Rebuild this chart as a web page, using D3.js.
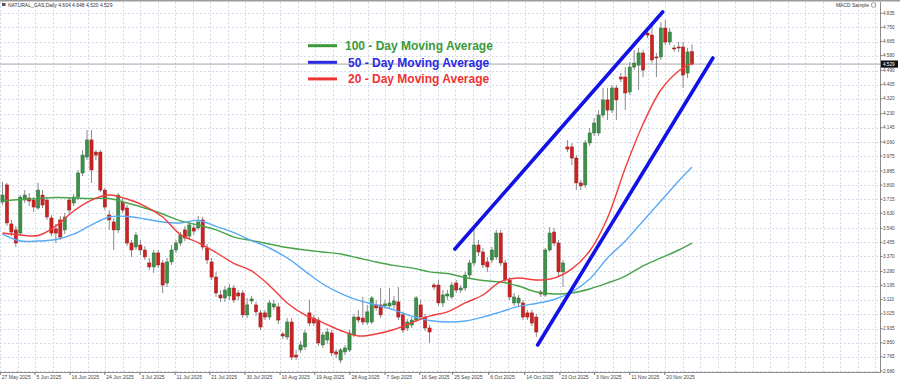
<!DOCTYPE html>
<html><head><meta charset="utf-8">
<script src="https://cdn.jsdelivr.net/npm/d3@7/dist/d3.min.js"></script>
<style>html,body{margin:0;padding:0;background:#fff;} svg{display:block;font-family:"Liberation Sans",Arial,sans-serif;}</style>
</head><body><svg id="c" width="900" height="380"></svg>
<script>
// ---- DATA ----
const symbolTitle = "NATURAL_GAS,Daily  4.604 4.648 4.520 4.529";
const indicatorTitle = "MACD Sample";
const lastPrice = 4.529;

const candleOpen = [3.698,3.801,3.566,3.530,3.511,3.710,3.722,3.710,3.662,3.740,
3.710,3.602,3.536,3.590,3.530,3.710,3.692,3.728,3.873,3.969,
4.072,3.999,3.999,3.770,3.620,3.578,3.530,3.698,3.662,3.451,
3.427,3.439,3.409,3.331,3.307,3.391,3.331,3.210,3.337,3.409,
3.451,3.530,3.493,3.542,3.542,3.590,3.421,3.337,3.246,3.138,
3.120,3.132,3.180,3.150,3.150,3.018,3.102,3.078,3.030,3.030,
3.005,3.066,3.066,2.903,2.885,2.975,2.776,2.807,2.825,3.030,
2.999,2.987,2.837,2.867,2.909,2.795,2.746,2.795,2.807,2.897,
3.005,2.999,2.975,2.975,3.078,3.078,3.072,3.072,3.078,3.096,
3.018,2.939,2.957,2.987,3.078,3.005,2.939,3.198,3.198,3.090,
3.132,3.126,3.210,3.168,3.180,3.258,3.331,3.439,3.397,3.337,
3.349,3.367,3.511,3.331,3.228,3.090,3.090,3.090,3.030,3.030,
3.005,3.156,3.138,3.409,3.517,3.451,3.277,4.030,4.030,3.963,
3.813,3.801,4.054,4.114,4.114,4.222,4.313,4.252,4.385,4.451,
4.451,4.361,4.511,4.523,4.596,4.716,4.704,4.572,4.572,4.746,
4.662,4.626,4.632,4.632,4.475,4.604];
const candleHigh = [3.819,3.813,3.590,3.554,3.740,3.770,3.752,3.728,3.813,3.770,
3.728,3.620,3.566,3.614,3.632,3.728,3.746,3.891,4.011,4.132,
4.132,4.011,4.011,3.783,3.650,3.602,3.752,3.722,3.680,3.469,
3.517,3.469,3.433,3.361,3.409,3.409,3.349,3.361,3.439,3.469,
3.517,3.554,3.578,3.566,3.614,3.608,3.445,3.361,3.277,3.168,
3.192,3.204,3.198,3.168,3.168,3.120,3.132,3.096,3.048,3.048,
3.108,3.108,3.090,2.915,2.999,2.999,2.807,2.861,2.927,3.108,
3.018,3.005,2.915,2.939,2.927,2.813,2.819,2.837,2.927,3.024,
3.048,3.126,3.078,3.132,3.108,3.180,3.108,3.180,3.132,3.186,
3.036,2.993,3.005,3.132,3.108,3.024,2.957,3.210,3.228,3.168,
3.168,3.216,3.228,3.198,3.277,3.349,3.548,3.469,3.421,3.367,
3.427,3.530,3.530,3.349,3.246,3.150,3.138,3.108,3.048,3.048,
3.024,3.168,3.421,3.548,3.542,3.469,3.349,4.072,4.054,3.981,
3.831,4.072,4.144,4.204,4.252,4.385,4.385,4.403,4.403,4.475,
4.511,4.542,4.614,4.626,4.614,4.734,4.782,4.596,4.782,4.795,
4.746,4.644,4.662,4.662,4.626,4.648];
const candleLow = [3.680,3.554,3.493,3.427,3.499,3.692,3.674,3.638,3.650,3.662,
3.590,3.493,3.451,3.469,3.505,3.632,3.674,3.710,3.855,3.951,
3.813,3.951,3.758,3.650,3.530,3.409,3.511,3.632,3.433,3.367,
3.409,3.379,3.349,3.289,3.271,3.301,3.150,3.186,3.319,3.391,
3.433,3.463,3.469,3.499,3.530,3.409,3.325,3.228,3.126,3.096,
3.096,3.108,3.090,3.108,2.999,2.999,3.084,3.011,2.927,2.987,
2.987,3.048,2.963,2.873,2.867,2.746,2.746,2.789,2.807,2.951,
2.951,2.831,2.819,2.843,2.770,2.758,2.728,2.776,2.795,2.885,
2.969,2.957,2.957,2.963,3.042,2.999,3.054,3.060,3.054,2.987,
2.909,2.921,2.939,2.975,2.987,2.921,2.849,3.168,3.072,3.066,
3.108,3.114,3.150,3.150,3.162,3.240,3.313,3.373,3.301,3.277,
3.331,3.349,3.313,3.210,3.108,3.072,3.072,2.987,2.987,2.951,
2.885,3.126,3.126,3.397,3.433,3.252,3.186,3.999,3.921,3.770,
3.770,3.783,4.036,4.096,4.096,4.204,4.192,4.234,4.192,4.421,
4.252,4.343,4.493,4.373,4.451,4.686,4.535,4.451,4.554,4.644,
4.644,4.602,4.602,4.385,4.445,4.520];
const candleClose = [3.740,3.572,3.517,3.451,3.728,3.740,3.704,3.668,3.770,3.680,
3.608,3.511,3.511,3.487,3.608,3.650,3.728,3.873,3.981,4.072,
3.891,3.981,3.770,3.668,3.590,3.530,3.740,3.650,3.451,3.409,
3.499,3.409,3.367,3.307,3.391,3.319,3.198,3.337,3.409,3.451,
3.499,3.481,3.560,3.523,3.578,3.427,3.349,3.246,3.150,3.120,
3.168,3.180,3.108,3.132,3.018,3.078,3.114,3.036,2.945,3.005,
3.090,3.084,2.987,2.891,2.975,2.764,2.764,2.837,2.909,2.969,
2.969,2.849,2.897,2.915,2.789,2.782,2.807,2.819,2.909,3.005,
2.987,2.975,3.036,3.120,3.060,3.018,3.084,3.090,3.102,3.005,
2.927,2.975,2.987,3.120,3.005,2.939,2.915,3.186,3.090,3.138,
3.144,3.198,3.168,3.180,3.258,3.331,3.439,3.397,3.319,3.307,
3.409,3.511,3.331,3.228,3.126,3.126,3.120,3.005,3.005,2.969,
2.915,3.144,3.409,3.511,3.451,3.277,3.331,4.017,3.963,3.813,
3.795,4.054,4.114,4.174,4.222,4.313,4.252,4.385,4.313,4.439,
4.355,4.511,4.535,4.596,4.493,4.704,4.554,4.566,4.746,4.662,
4.722,4.620,4.626,4.463,4.602,4.529];

const maBars = [0,4,8,12,16,20,24,28,32,36,40,44,48,52,56,60,64,68,72,76,80,84,88,92,96,100,104,108,112,116,120,124,128,132,136,140,144,148,152,155];
const ma100 = [3.704,3.713,3.719,3.725,3.722,3.719,3.719,3.692,3.662,3.626,3.584,3.560,3.530,3.487,3.466,3.445,3.424,3.409,3.397,3.385,3.361,3.337,3.316,3.301,3.277,3.267,3.243,3.225,3.216,3.192,3.156,3.144,3.150,3.174,3.210,3.252,3.313,3.361,3.409,3.451];
const ma50 = [3.505,3.463,3.463,3.472,3.505,3.560,3.608,3.611,3.596,3.578,3.572,3.587,3.551,3.514,3.466,3.421,3.361,3.282,3.204,3.147,3.105,3.078,3.048,3.011,2.984,2.975,2.981,3.005,3.036,3.069,3.087,3.111,3.156,3.234,3.361,3.463,3.584,3.704,3.825,3.909];
const ma20 = [3.511,3.499,3.496,3.554,3.644,3.710,3.740,3.716,3.674,3.608,3.502,3.454,3.394,3.328,3.283,3.195,3.090,3.018,2.972,2.924,2.891,2.903,2.930,2.972,3.011,3.036,3.090,3.138,3.219,3.240,3.228,3.240,3.295,3.403,3.602,3.903,4.168,4.373,4.487,4.535];

// trend channel anchors [bar index, price]
const channelUpper = [[101.7,3.415],[148.4,4.843]];
const channelLower = [[120.3,2.837],[159.7,4.566]];

const priceTicks = ["4.835","4.750","4.665","4.580","4.490","4.405","4.320","4.230","4.145","4.060","3.975","3.885","3.800","3.715","3.630","3.540","3.455","3.370","3.280","3.195","3.110","3.025","2.935","2.850","2.765","2.680"];
const dateLabels = ["27 May 2025","5 Jun 2025","16 Jun 2025","24 Jun 2025","3 Jul 2025","11 Jul 2025","21 Jul 2025","30 Jul 2025","10 Aug 2025","19 Aug 2025","28 Aug 2025","7 Sep 2025","16 Sep 2025","25 Sep 2025","6 Oct 2025","14 Oct 2025","23 Oct 2025","3 Nov 2025","11 Nov 2025","20 Nov 2025"];
const dateBars = [-0.5,7.3,15.2,23,30.9,38.8,46.6,54.5,62.4,70.2,78.1,86,93.8,101.2,109.3,117.4,125.3,133.1,141,148.9];

const legendLabels = ["100 - Day Moving Average","50 - Day Moving Average","20 - Day Moving Average"];
const legendColors = ["#3a9a3a","#2a2ae6","#f03232"];

// ---- DRAW ----
const svg = d3.select("#c");
const plotR = 880, plotB = 372, plotT = 2;
const x = d3.scaleLinear().domain([0,155]).range([2.5,692]);
const y = d3.scaleLinear().domain([2.680,4.835]).range([371,13.3]);

svg.append("rect").attr("width",900).attr("height",380).attr("fill","#fff");

// grid
const gridColor = "#d3dceb";
const gv = svg.append("g");
gv.selectAll("line.h").data(priceTicks).join("line")
  .attr("x1",0).attr("x2",plotR).attr("y1",d=>Math.round(y(+d))+0.5).attr("y2",d=>Math.round(y(+d))+0.5)
  .attr("stroke",gridColor).attr("stroke-width",1).attr("stroke-dasharray","2,2");
gv.selectAll("line.v").data(d3.range(0, plotR, 17.5)).join("line")
  .attr("x1",d=>Math.round(d)+0.5).attr("x2",d=>Math.round(d)+0.5).attr("y1",plotT).attr("y2",plotB)
  .attr("stroke",gridColor).attr("stroke-width",1).attr("stroke-dasharray","2,2");

// bid line
svg.append("line").attr("x1",0).attr("x2",plotR).attr("y1",y(lastPrice)).attr("y2",y(lastPrice))
  .attr("stroke","#a8a8a8").attr("stroke-width",1);

// candles
const idx = d3.range(candleClose.length);
const cg = svg.append("g");
cg.selectAll("line").data(idx).join("line")
  .attr("x1",i=>x(i)).attr("x2",i=>x(i))
  .attr("y1",i=>y(candleHigh[i])).attr("y2",i=>y(candleLow[i]))
  .attr("stroke","#8a8a8a").attr("stroke-width",1);
cg.selectAll("rect").data(idx).join("rect")
  .attr("x",i=>x(i)-1.6).attr("width",3.2)
  .attr("y",i=>y(Math.max(candleOpen[i],candleClose[i])))
  .attr("height",i=>Math.max(1,Math.abs(y(candleOpen[i])-y(candleClose[i]))))
  .attr("fill",i=>candleClose[i]>=candleOpen[i]?"#3d8f4a":"#cc2222")
  .attr("stroke",i=>candleClose[i]>=candleOpen[i]?"#2d6e37":"#9e1a1a")
  .attr("stroke-width",0.5);

// moving averages
const maLine = d3.line().x(d=>x(d[0])).y(d=>y(d[1])).curve(d3.curveCatmullRom.alpha(0.5));
[[ma100,"#48a448"],[ma50,"#5aaaf5"],[ma20,"#f23c3c"]].forEach(([arr,col])=>{
  svg.append("path").datum(maBars.map((b,k)=>[b,arr[k]])).attr("d",maLine)
    .attr("fill","none").attr("stroke",col).attr("stroke-width",1.4);
});

// channel
const chLine = d3.line().x(d=>x(d[0])).y(d=>y(d[1]));
[channelUpper,channelLower].forEach(c=>{
  svg.append("path").datum(c).attr("d",chLine).attr("fill","none")
    .attr("stroke","#1212e6").attr("stroke-width",3.6).attr("stroke-linecap","round");
});

// legend
const lg = svg.append("g");
legendLabels.forEach((t,k)=>{
  const ly = 45.7 + k*16.6;
  lg.append("line").attr("x1",308).attr("x2",337).attr("y1",ly).attr("y2",ly)
    .attr("stroke",legendColors[k]).attr("stroke-width",3);
  lg.append("text").attr("x",k===0?345:348).attr("y",ly+4.2).text(t)
    .attr("fill",legendColors[k]).attr("font-size",12).attr("font-weight","bold");
});

// frame / axes
svg.append("line").attr("x1",0).attr("x2",900).attr("y1",0.75).attr("y2",0.75).attr("stroke","#9a9a9a").attr("stroke-width",1.5);
svg.append("line").attr("x1",plotR+0.5).attr("x2",plotR+0.5).attr("y1",plotT).attr("y2",plotB).attr("stroke","#8c8c8c").attr("stroke-width",1);
svg.append("line").attr("x1",0).attr("x2",plotR+1).attr("y1",plotB+0.5).attr("y2",plotB+0.5).attr("stroke","#8c8c8c").attr("stroke-width",1);

// y axis labels
const ya = svg.append("g");
ya.selectAll("line").data(priceTicks).join("line")
  .attr("x1",plotR).attr("x2",plotR+2.5).attr("y1",d=>y(+d)).attr("y2",d=>y(+d)).attr("stroke","#777");
ya.selectAll("text").data(priceTicks).join("text")
  .attr("x",plotR+3).attr("y",d=>y(+d)+1.6).text(d=>d)
  .attr("font-size",4.6).attr("fill","#444");
// last price box
svg.append("rect").attr("x",plotR+1).attr("y",y(lastPrice)-3.6).attr("width",17).attr("height",7.2).attr("fill","#111");
svg.append("text").attr("x",plotR+3).attr("y",y(lastPrice)+1.7).text(lastPrice.toFixed(3))
  .attr("font-size",4.6).attr("fill","#fff");

// x axis labels
const xa = svg.append("g");
xa.selectAll("line").data(dateBars).join("line")
  .attr("x1",b=>x(b)).attr("x2",b=>x(b)).attr("y1",plotB).attr("y2",plotB+3).attr("stroke","#777");
xa.selectAll("text").data(dateLabels).join("text")
  .attr("x",(d,k)=>x(dateBars[k])+1.5).attr("y",378.5).text(d=>d)
  .attr("font-size",5).attr("fill","#444");

// headers
svg.append("rect").attr("x",2).attr("y",3).attr("width",3.5).attr("height",3).attr("fill","#555");
svg.append("text").attr("x",8).attr("y",6.8).text(symbolTitle).attr("font-size",5).attr("fill","#333");
svg.append("text").attr("x",869).attr("y",6.8).attr("text-anchor","end").text(indicatorTitle).attr("font-size",5).attr("fill","#333");
svg.append("circle").attr("cx",873.5).attr("cy",5).attr("r",2.3).attr("fill","none").attr("stroke","#666").attr("stroke-width",0.6);
</script></body></html>
